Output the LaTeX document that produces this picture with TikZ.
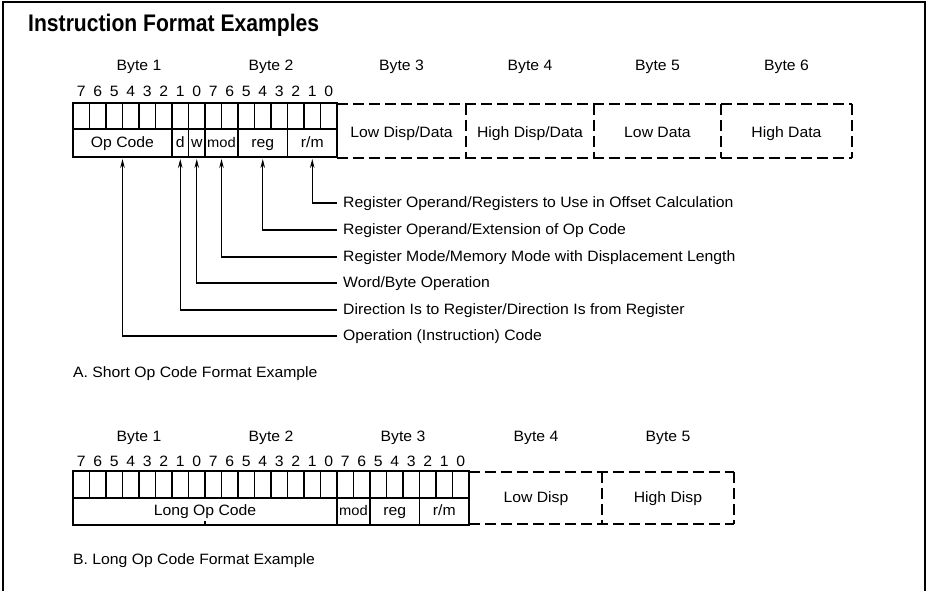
\documentclass[tikz,border=0pt]{standalone}
\usepackage{fontspec}
\setmainfont[FakeStretch=1.05]{Liberation Sans}
\newfontfamily\headfont[FakeStretch=0.88]{Liberation Sans}
\usetikzlibrary{arrows.meta}
\tikzset{
	txt/.style={inner sep=0pt,text height=10pt,text depth=2pt,font=\fontsize{15}{18}\selectfont},
	modtxt/.style={inner sep=0pt,text height=10pt,text depth=2pt,font=\fontsize{14}{17}\selectfont},
	note/.style={txt,anchor=west,inner xsep=6pt},
	solidline/.style={line width=1.2pt},
	outline/.style={line width=1.8pt},
	dashline/.style={line width=1.4pt,dash pattern=on 11pt off 5pt},
	pointer/.style={line width=1.2pt,-{Stealth[length=9pt,width=4.5pt]}}
}
\begin{document}
\begin{tikzpicture}[x=1pt,y=-1pt]
\useasboundingbox (0,0) rectangle (928,591);
\draw [line width=1.2pt] (3,591) -- (3,2) -- (925,2) -- (925,591);
\node[anchor=base west,inner sep=0pt,font=\headfont\bfseries\fontsize{24}{28}\selectfont] (title) at (28,32) {Instruction Format Examples};

% A. short op code format
\draw [outline] (73,103) rectangle (337,157);
\draw [solidline] (73,129) -- (337,129);
\foreach \i in {1,...,15}
	\draw [solidline] (73+16.5*\i,103) -- (73+16.5*\i,129);
\foreach \i in {6,7,8,10,13}
	\draw [solidline] (73+16.5*\i,129) -- (73+16.5*\i,157);
\foreach \i in {0,...,15}{
	\pgfmathtruncatemacro\bitno{7-mod(\i,8)}
	\node[txt] (abit\i) at (81.25+16.5*\i,93) {\bitno};
}
\node[txt] (abyte1) at (139,67) {Byte 1};
\node[txt] (abyte2) at (271,67) {Byte 2};
\node[txt] (abyte3) at (401.5,67) {Byte 3};
\node[txt] (abyte4) at (530,67) {Byte 4};
\node[txt] (abyte5) at (657.5,67) {Byte 5};
\node[txt] (abyte6) at (786.5,67) {Byte 6};
\node[txt] (aop) at (122.5,143) {Op Code};
\node[txt] (ad) at (180.25,143) {d};
\node[txt] (aw) at (196.75,143) {w};
\node[modtxt] (amod) at (221.5,143) {mod};
\node[txt] (areg) at (262.75,143) {reg};
\node[txt] (arm) at (312.25,143) {r/m};
\draw [dashline] (337,104) -- (852,104);
\draw [dashline] (337,158) -- (852,158);
\foreach \x in {466,594,721,852}
	\draw [dashline] (\x,104) -- (\x,158);
\node[txt] (alowdd) at (401.5,133) {Low Disp/Data};
\node[txt] (ahighdd) at (530,133) {High Disp/Data};
\node[txt] (alowd) at (657.5,133) {Low Data};
\node[txt] (ahighd) at (786.5,133) {High Data};

\coordinate (prm) at (312.25,159);
\coordinate (preg) at (262.75,159);
\coordinate (pmod) at (221.5,159);
\coordinate (pw) at (196.75,159);
\coordinate (pd) at (180.25,159);
\coordinate (pop) at (122.5,159);
\node[note] (nrm) at (337,203) {Register Operand/Registers to Use in Offset Calculation};
\node[note] (nreg) at (337,230) {Register Operand/Extension of Op Code};
\node[note] (nmod) at (337,257) {Register Mode/Memory Mode with Displacement Length};
\node[note] (nw) at (337,283) {Word/Byte Operation};
\node[note] (nd) at (337,310) {Direction Is to Register/Direction Is from Register};
\node[note] (nop) at (337,336) {Operation (Instruction) Code};
\foreach \p in {rm,reg,mod,w,d,op}
	\draw [pointer] (n\p.west) -| (p\p);
\node[txt,anchor=west] (capa) at (73,373) {A. Short Op Code Format Example};

% B. long op code format
\draw [outline] (73,471) rectangle (469,525);
\draw [solidline] (73,498) -- (469,498);
\foreach \i in {1,...,23}
	\draw [solidline] (73+16.5*\i,471) -- (73+16.5*\i,498);
\foreach \i in {16,18,21}
	\draw [solidline] (73+16.5*\i,498) -- (73+16.5*\i,525);
\draw [solidline] (205,525) -- (205,521);
\foreach \i in {0,...,23}{
	\pgfmathtruncatemacro\bitno{7-mod(\i,8)}
	\node[txt] (bbit\i) at (81.25+16.5*\i,462) {\bitno};
}
\node[txt] (bbyte1) at (139,437) {Byte 1};
\node[txt] (bbyte2) at (271,437) {Byte 2};
\node[txt] (bbyte3) at (403,437) {Byte 3};
\node[txt] (bbyte4) at (536,437) {Byte 4};
\node[txt] (bbyte5) at (668,437) {Byte 5};
\node[txt] (blong) at (205,511) {Long Op Code};
\node[modtxt] (bmod) at (353.5,511) {mod};
\node[txt] (breg) at (394.75,511) {reg};
\node[txt] (brm) at (444.25,511) {r/m};
\draw [dashline] (469,472) -- (734,472);
\draw [dashline] (469,524) -- (734,524);
\foreach \x in {602,734}
	\draw [dashline] (\x,472) -- (\x,524);
\node[txt] (blowd) at (536,498) {Low Disp};
\node[txt] (bhighd) at (668,498) {High Disp};
\node[txt,anchor=west] (capb) at (73,560) {B. Long Op Code Format Example};
\end{tikzpicture}
\end{document}
